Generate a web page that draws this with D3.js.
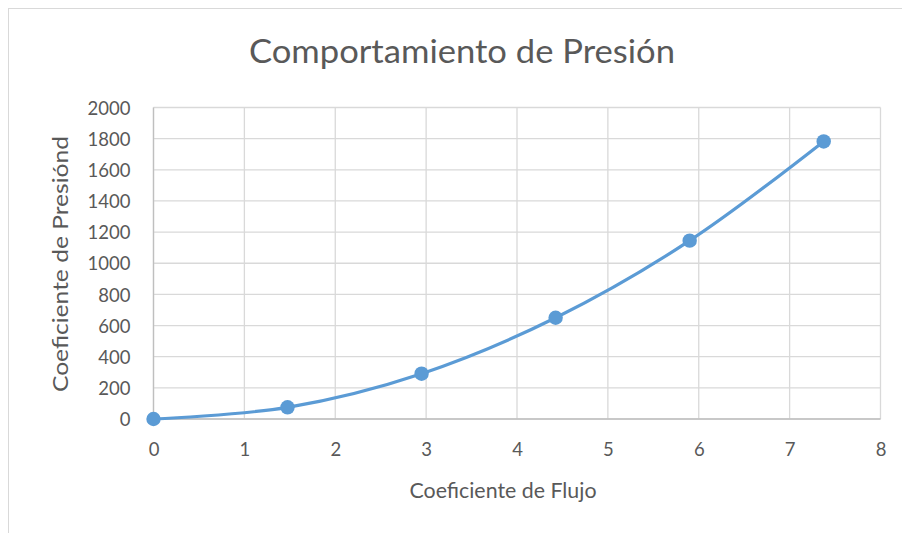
<!DOCTYPE html>
<html><head><meta charset="utf-8">
<script src="https://cdn.jsdelivr.net/npm/d3@7"></script>
<style>
body{margin:0;background:#fff;}
text{font-family:Lato,"Open Sans",sans-serif;fill:#595959;font-weight:400;}
</style></head>
<body><svg id="c" width="902" height="533"></svg>
<script>
const title = "Comportamiento de Presión";
const xTitle = "Coeficiente de Flujo";
const yTitle = "Coeficiente de Presiónd";
const xValues = [0, 1.475, 2.95, 4.425, 5.9, 7.375];
const yValues = [0, 75, 291, 650, 1145, 1782];
const xTicks = [0,1,2,3,4,5,6,7,8];
const yTicks = [0,200,400,600,800,1000,1200,1400,1600,1800,2000];

const svg = d3.select("#c");
svg.append("rect").attr("x",8.5).attr("y",8.5).attr("width",910).attr("height",540)
  .attr("fill","#fff").attr("stroke","#d9d9d9").attr("stroke-width",1);

const x = d3.scaleLinear().domain([0,8]).range([153.5,880.5]);
const y = d3.scaleLinear().domain([0,2000]).range([419,107.5]);

const g = svg.append("g");
g.selectAll(".hg").data(yTicks).join("line")
  .attr("x1",x(0)).attr("x2",x(8)).attr("y1",d=>y(d)).attr("y2",d=>y(d))
  .attr("stroke","#d9d9d9").attr("stroke-width",1.3);
g.selectAll(".vg").data(xTicks).join("line")
  .attr("y1",y(0)).attr("y2",y(2000)).attr("x1",d=>x(d)).attr("x2",d=>x(d))
  .attr("stroke","#d9d9d9").attr("stroke-width",1.3);
g.append("line").attr("x1",x(0)).attr("x2",x(0)).attr("y1",y(0)).attr("y2",y(2000)).attr("stroke","#bfbfbf").attr("stroke-width",1.3);
g.append("line").attr("x1",x(0)).attr("x2",x(8)).attr("y1",y(0)).attr("y2",y(0)).attr("stroke","#bfbfbf").attr("stroke-width",1.3);

const yAxis = svg.append("g").attr("transform",`translate(${x(0)},0)`)
  .call(d3.axisLeft(y).tickValues(yTicks).tickSize(0).tickPadding(23).tickFormat(d3.format("d")));
yAxis.select(".domain").remove();
yAxis.selectAll("text").style("font-size","18.5px").style("font-family","Lato,sans-serif").attr("fill","#595959").attr("dy","0.36em");

const xAxis = svg.append("g").attr("transform",`translate(0,${y(0)})`)
  .call(d3.axisBottom(x).tickValues(xTicks).tickSize(0).tickPadding(24).tickFormat(d3.format("d")));
xAxis.select(".domain").remove();
xAxis.selectAll("text").style("font-size","18.5px").style("font-family","Lato,sans-serif").attr("fill","#595959");

const pts = xValues.map((v,i)=>[v,yValues[i]]);
const line = d3.line().x(d=>x(d[0])).y(d=>y(d[1])).curve(d3.curveCatmullRom.alpha(0));
svg.append("path").datum(pts).attr("d",line).attr("fill","none")
  .attr("stroke","#5b9bd5").attr("stroke-width",3.2).attr("stroke-linecap","round");
svg.selectAll(".pt").data(pts).join("circle")
  .attr("cx",d=>x(d[0])).attr("cy",d=>y(d[1])).attr("r",7.2).attr("fill","#5b9bd5");

svg.append("text").attr("x",462).attr("y",63).attr("text-anchor","middle")
  .style("font-size","32px").attr("textLength",426).attr("lengthAdjust","spacingAndGlyphs").text(title);
svg.append("text").attr("x",503).attr("y",498).attr("text-anchor","middle")
  .style("font-size","21px").attr("textLength",187).attr("lengthAdjust","spacingAndGlyphs").text(xTitle);
svg.append("text").attr("transform","translate(68,264) rotate(-90)").attr("text-anchor","middle")
  .style("font-size","21px").attr("textLength",256).attr("lengthAdjust","spacingAndGlyphs").text(yTitle);
</script></body></html>
